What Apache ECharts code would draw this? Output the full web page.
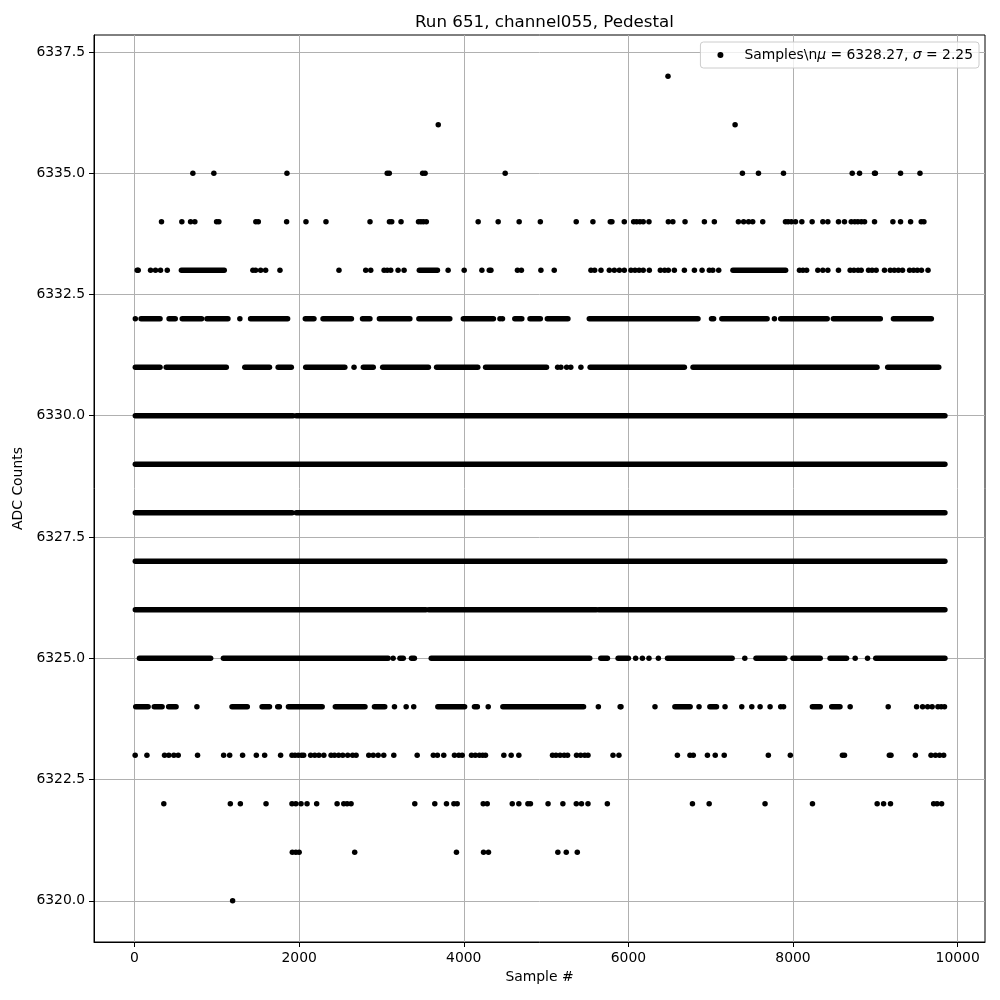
<!DOCTYPE html>
<html>
<head>
<meta charset="utf-8">
<script src="https://cdn.jsdelivr.net/npm/echarts@6/dist/echarts.min.js"></script>
<style>html,body{margin:0;padding:0;background:#fff}#c{width:1000px;height:1000px}</style>
</head>
<body>
<div id="c"></div>
<script>
// ---- data (x = sample #, grouped by ADC level) ----
const xTicks = [0, 2000, 4000, 6000, 8000, 10000];
const yTicks = [6320, 6322.5, 6325, 6327.5, 6330, 6332.5, 6335, 6337.5];

const dots_6337 = [6481];
const dots_6336 = [3690, 7296];
const dots_6335 = [709, 964, 1852, 3070, 3095, 3500, 3530, 4503, 7385, 7580, 7884, 8719, 8808, 8990, 9000, 9306, 9542];
const dots_6334 = [328, 575, 681, 733, 997, 1025, 1474, 1504, 1848, 2083, 2326, 2861, 3097, 3125, 3238, 3450, 3480, 3510, 3545,
  4175, 4418, 4673, 4930, 5366, 5569, 5780, 5800, 5950, 6064, 6100, 6140, 6180, 6250, 6485, 6540, 6688, 6923, 7044,
  7336, 7400, 7460, 7510, 7632, 7908, 7940, 7980, 8030, 8107, 8232, 8362, 8423, 8552, 8625, 8707, 8750, 8788, 8830,
  8869, 8990, 9213, 9306, 9428, 9557, 9590];
const dots_6333 = [33, 45, 195, 255, 316, 398, 1438, 1471, 1532, 1593, 1767, 2484, 2809, 2870, 3032, 3070, 3113, 3202, 3275,
  3810, 4005, 4220, 4310, 4330, 4652, 4700, 4937, 5099, 5545, 5590, 5667, 5768, 5829, 5890, 5950, 6031, 6080, 6130,
  6180, 6254, 6388, 6440, 6485, 6558, 6680, 6802, 6895, 6983, 7025, 7097, 8078, 8120, 8165, 8301, 8362, 8423, 8552,
  8694, 8740, 8790, 8828, 8917, 8960, 9010, 9111, 9181, 9230, 9280, 9330, 9416, 9464, 9510, 9560, 9640];
const runs_6333 = [[570, 1090], [3460, 3680], [7270, 7910]];
const dots_6332 = [10, 1280, 4440, 4470, 7774];
const runs_6332 = [[80, 310], [420, 495], [580, 815], [880, 1135], [1410, 1860], [2075, 2180], [2290, 2635], [2770, 2860],
  [2975, 3345], [3455, 3830], [3995, 4360], [4620, 4705], [4805, 4930], [5015, 5265], [5525, 6845], [7010, 7035],
  [7135, 7685], [7850, 8415], [8490, 9060], [9220, 9680]];
const dots_6331 = [2667, 5140, 5180, 5250, 5300, 5423];
const runs_6331 = [[10, 310], [385, 1115], [1340, 1640], [1745, 1905], [2080, 2555], [2780, 2900], [3015, 3570],
  [3670, 4170], [4265, 5005], [5535, 6680], [6785, 9020], [9150, 9770]];
const runs_6330 = [[10, 1925], [1965, 9845]];
const runs_6329 = [[10, 9845]];
const runs_6328 = [[10, 1915], [1965, 9845]];
const runs_6327 = [[10, 9845]];
const runs_6326 = [[10, 3540], [3575, 5610], [5640, 9845]];
const dots_6325 = [3142, 6088, 6170, 6250, 6364, 7414, 8755, 8905];
const runs_6325 = [[60, 925], [1080, 3080], [3225, 3265], [3365, 3400], [3605, 5530], [5665, 5745], [5875, 6000],
  [6475, 7260], [7550, 7900], [8000, 8330], [8450, 8650], [9005, 9845]];
const dots_6324 = [758, 3158, 3300, 3392, 4297, 5635, 5900, 5910, 6323, 6858, 7174, 7377, 7499, 7600, 7721, 7850, 7885,
  8694, 9156, 9501, 9574, 9635, 9690, 9760, 9800, 9840];
const runs_6324 = [[15, 165], [240, 335], [415, 505], [1185, 1370], [1550, 1640], [1740, 1760], [1870, 2280],
  [2440, 2800], [2915, 3040], [3685, 4010], [4130, 4165], [4475, 5455], [6565, 6750], [6990, 7070], [8235, 8330],
  [8470, 8570]];
const dots_6323 = [8, 151, 365, 417, 478, 531, 766, 1083, 1156, 1313, 1480, 1581, 1775, 1913, 1950, 1990, 2030, 2055,
  2140, 2190, 2240, 2300, 2388, 2430, 2480, 2530, 2590, 2650, 2692, 2846, 2900, 2960, 3028, 3150, 3434, 3630, 3680,
  3757, 3887, 3940, 3981, 4094, 4140, 4190, 4230, 4264, 4487, 4576, 4669, 5078, 5120, 5170, 5220, 5261, 5370, 5420,
  5470, 5509, 5813, 5885, 6595, 6748, 6788, 6960, 7055, 7164, 7700, 7967, 8600, 8625, 9170, 9190, 9486, 9676, 9730,
  9780, 9830];
const dots_6322 = [356, 1164, 1286, 1598, 1913, 1960, 2023, 2096, 2213, 2461, 2542, 2583, 2631, 3405, 3648, 3790, 3880,
  3920, 4236, 4285, 4589, 4669, 4779, 4810, 5024, 5204, 5367, 5430, 5509, 5744, 6778, 6981, 7660, 8236, 9022, 9100,
  9184, 9708, 9750, 9805];
const dots_6321 = [1917, 1960, 2000, 2675, 3911, 4240, 4300, 5143, 5245, 5379];
const dots_6320 = [1192];

const seriesName = 'Samples\\nμ = 6328.27, σ = 2.25';
const titleText = 'Run 651, channel055, Pedestal';

// ---- build series ----
const dotSets = [[6337, dots_6337], [6336, dots_6336], [6335, dots_6335], [6334, dots_6334], [6333, dots_6333],
  [6332, dots_6332], [6331, dots_6331], [6325, dots_6325], [6324, dots_6324], [6323, dots_6323], [6322, dots_6322],
  [6321, dots_6321], [6320, dots_6320]];
const runSets = [[6333, runs_6333], [6332, runs_6332], [6331, runs_6331], [6330, runs_6330], [6329, runs_6329],
  [6328, runs_6328], [6327, runs_6327], [6326, runs_6326], [6325, runs_6325], [6324, runs_6324]];

const DOT = 5.5;
const scatterData = [];
dotSets.forEach(([lvl, xs]) => xs.forEach(x => scatterData.push([x, lvl])));

const series = [{
  name: seriesName, type: 'scatter', data: scatterData, symbol: 'circle', symbolSize: DOT,
  itemStyle: {color: '#000', opacity: 1}, silent: true, animation: false, large: false, z: 3
}];
runSets.forEach(([lvl, runs]) => runs.forEach(r => {
  series.push({
    type: 'line', data: [[r[0], lvl], [r[1], lvl]], symbol: 'none', silent: true, animation: false,
    lineStyle: {color: '#000', width: DOT, cap: 'round', opacity: 1}, z: 3
  });
}));

const FONT = 'DejaVu Sans';
const chart = echarts.init(document.getElementById('c'), null, {renderer: 'canvas'});
chart.setOption({
  backgroundColor: '#fff',
  animation: false,
  title: {
    text: titleText, left: 539.5, top: 9, textAlign: 'center',
    textStyle: {fontFamily: FONT, fontSize: 16.7, fontWeight: 'normal', color: '#000'}
  },
  grid: {left: 94, right: 15, top: 35, bottom: 58, show: true, borderColor: '#000', borderWidth: 1,
    backgroundColor: '#fff'},
  legend: {
    data: [seriesName], right: 21, top: 42, orient: 'vertical',
    padding: [6, 6, 6, 17], borderColor: '#cccccc', borderWidth: 1, borderRadius: 3,
    backgroundColor: 'rgba(255,255,255,0.8)',
    icon: 'circle', itemWidth: 6, itemHeight: 6,
    itemStyle: {color: '#000', opacity: 1},
    formatter: () => '{a|Samples\\n}{i|μ}{a| = 6328.27, }{i|σ}{a| = 2.25}',
    textStyle: {
      fontFamily: FONT, fontSize: 13.9, color: '#000', padding: [0, 0, 0, 16],
      rich: {
        a: {fontFamily: FONT, fontSize: 13.9, color: '#000'},
        i: {fontFamily: FONT, fontSize: 13.9, color: '#000', fontStyle: 'italic'}
      }
    }
  },
  xAxis: {
    type: 'value', min: -492, max: 10332,
    name: 'Sample #', nameLocation: 'middle', nameGap: 27,
    nameTextStyle: {fontFamily: FONT, fontSize: 13.9, color: '#000'},
    axisLine: {show: true, onZero: false, lineStyle: {color: '#000', width: 1}},
    axisTick: {show: true, inside: false, length: 5, lineStyle: {color: '#000'}, customValues: xTicks},
    axisLabel: {margin: 9, fontFamily: FONT, fontSize: 13.9, color: '#000', customValues: xTicks,
      formatter: v => String(v)},
    splitLine: {show: true, lineStyle: {color: '#b0b0b0', width: 1}}
  },
  yAxis: {
    type: 'value', min: 6319.15, max: 6337.85,
    name: 'ADC Counts', nameLocation: 'middle', nameGap: 64,
    nameTextStyle: {fontFamily: FONT, fontSize: 13.9, color: '#000'},
    axisLine: {show: true, onZero: false, lineStyle: {color: '#000', width: 1}},
    axisTick: {show: true, inside: false, length: 5, lineStyle: {color: '#000'}, customValues: yTicks},
    axisLabel: {margin: 9, fontFamily: FONT, fontSize: 13.9, color: '#000', customValues: yTicks,
      formatter: v => Number(v).toFixed(1)},
    splitLine: {show: true, lineStyle: {color: '#b0b0b0', width: 1}}
  },
  series: series
});
</script>
</body>
</html>
